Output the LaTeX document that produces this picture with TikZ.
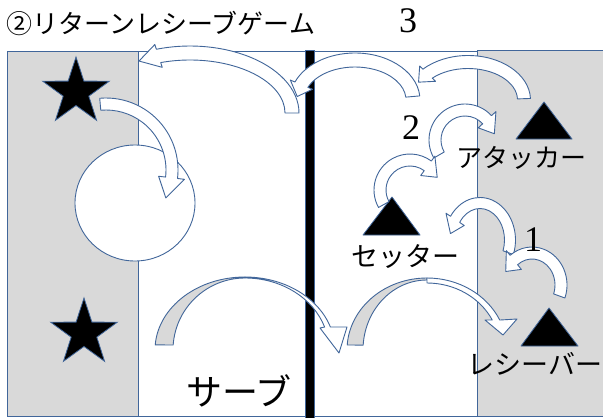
\documentclass[tikz,border=0pt]{standalone}
\usepackage{fontspec}
\newfontfamily\jpf{Noto Sans CJK JP}
\newfontfamily\numf{Liberation Serif}
\usetikzlibrary{shapes.geometric}
\definecolor{ablue}{HTML}{41669A}
\definecolor{lgray}{HTML}{D9D9D9}
\newcommand\cHL{14}
% \carrow[style]{cx}{cy}{rx}{ry}{tail angle}{tip angle}{half width}{head half width}
\newcommand\carrow[9][]{%
 \pgfmathsetmacro\cS{(#7>#6)?1:-1}%
 \pgfmathsetmacro\cAb{#7-(\cS)*\cHL*57.3/(0.5*(#4+#5))}%
 \pgfmathsetmacro\cXo{#4+#8}\pgfmathsetmacro\cYo{#5+#8}%
 \pgfmathsetmacro\cXi{#4-#8}\pgfmathsetmacro\cYi{#5-#8}%
 \pgfmathsetmacro\cXh{#4+#9}\pgfmathsetmacro\cYh{#5+#9}%
 \pgfmathsetmacro\cXj{#4-#9}\pgfmathsetmacro\cYj{#5-#9}%
 \draw[arw,#1] ({#2+\cXo*cos(#6)},{#3+\cYo*sin(#6)})
   arc[start angle=#6,end angle=\cAb,x radius=\cXo,y radius=\cYo]
   -- ({#2+\cXh*cos(\cAb)},{#3+\cYh*sin(\cAb)})
   -- ({#2+#4*cos(#7)},{#3+#5*sin(#7)})
   -- ({#2+\cXj*cos(\cAb)},{#3+\cYj*sin(\cAb)})
   -- ({#2+\cXi*cos(\cAb)},{#3+\cYi*sin(\cAb)})
   arc[start angle=\cAb,end angle=#6,x radius=\cXi,y radius=\cYi] -- cycle;}
\begin{document}
\begin{tikzpicture}[x=1pt,y=1pt,yscale=-1,
  arw/.style={draw=ablue,fill=white,line width=0.9pt,line join=round},
  court/.style={draw=ablue,line width=1pt},
  starshape/.style={star,star points=5,star point ratio=2.6,fill=black,draw=ablue,line width=0.8pt,inner sep=0pt,minimum size=70pt},
  tri/.style={fill=black,draw=ablue,line width=0.8pt,line join=round},
  jlab/.style={inner sep=0pt,font=\jpf\fontsize{26pt}{26pt}\selectfont},
  nlab/.style={inner sep=0pt,font=\numf\fontsize{36pt}{36pt}\selectfont}]
\useasboundingbox (0,0) rectangle (603,418);
% court
\fill[white] (0,0) rectangle (603,418);
\draw[court,fill=lgray] (7,51) rectangle (138,416);
\draw[court,fill=white] (138,51) rectangle (477,416);
\draw[court,fill=lgray] (477,50) rectangle (610,416);
\draw[court,fill=black] (305,50) rectangle (314,420);
% ball and players
\node[ellipse,draw=ablue,fill=white,line width=0.9pt,minimum width=120pt,minimum height=116pt,inner sep=0pt] (ball) at (135,203) {};
\node[starshape] (star1) at (76,92) {};
\node[starshape] (star2) at (84,333) {};
\draw[tri] (544,102) -- (572,139) -- (516,139) -- cycle;
\draw[tri] (392,197) -- (420,235) -- (363,235) -- cycle;
\draw[tri] (549,308) -- (578,346) -- (521,346) -- cycle;
% serve arrows
\draw[arw,fill=lgray] ({245+90*cos(184)},{350+73*sin(184)}) arc[start angle=184,end angle=270,x radius=90,y radius=73]
  -- (245,278) arc[start angle=270,end angle=184,x radius=72,y radius=72] -- cycle;
\draw[arw] (245,277) arc[start angle=270,end angle=341.6,x radius=90,y radius=73]
  -- (347,327) -- (339,353) -- (320,328) -- ({245+84*cos(341.4)},{350+72*sin(341.4)})
  arc[start angle=341.4,end angle=270,x radius=84,y radius=72] -- cycle;
\draw[arw,fill=lgray] ({427+80*cos(184)},{350+72*sin(184)}) arc[start angle=184,end angle=270,x radius=80,y radius=72]
  -- (427,280) arc[start angle=270,end angle=184,x radius=64,y radius=70] -- cycle;
\draw[arw] (427,278) arc[start angle=270,end angle=335.4,x radius=80,y radius=72]
  -- (517,319) -- (503,335) -- (485,320) -- ({427+73*cos(333.4)},{350+67*sin(333.4)})
  arc[start angle=333.4,end angle=270,x radius=73,y radius=67] -- cycle;
% rally arrows
\renewcommand\cHL{21}\carrow{106}{170}{66}{66}{265}{385}{6}{13}
\renewcommand\cHL{17}\carrow{190}{113}{102}{60}{360}{240}{7}{12}
\renewcommand\cHL{15}\carrow{355}{100}{58}{40}{355}{185}{7}{12}
\renewcommand\cHL{13}\carrow{468}{100}{56}{38}{358}{208}{6.5}{11}
\renewcommand\cHL{16}\carrow{465}{140}{30}{30}{150}{348}{6}{12}
\renewcommand\cHL{15}\carrow{410}{190}{30}{30}{151}{335}{6}{12}
\renewcommand\cHL{14}\carrow{480}{240}{30}{37}{20}{-170}{5.5}{11}
\carrow{532}{285}{29}{32}{20}{-155}{6}{12}
% labels
\node[jlab] (title) at (161,23) {②リターンレシーブゲーム};
\node[nlab] (n3) at (408,21) {3};
\node[nlab] (n2) at (411,128) {2};
\node[nlab] (n1) at (533,240) {1};
\node[jlab] (att) at (521,158) {アタッカー};
\node[jlab,font=\jpf\fontsize{27pt}{27pt}\selectfont] (set) at (405,257) {セッター};
\node[jlab,font=\jpf\fontsize{27pt}{27pt}\selectfont] (rec) at (535,364) {レシーバー};
\node[jlab,font=\jpf\fontsize{36pt}{36pt}\selectfont] (serve) at (239,391) {サーブ};
\end{tikzpicture}
\end{document}
